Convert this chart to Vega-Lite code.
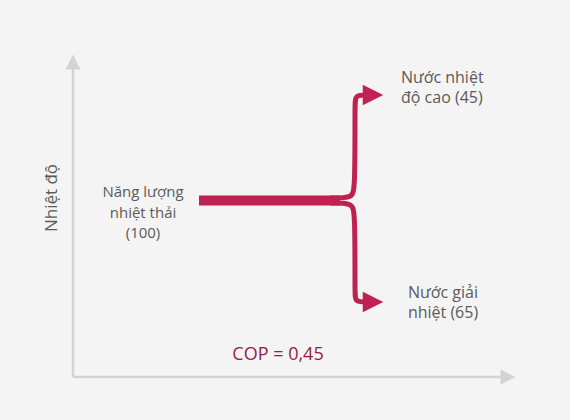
{
  "$schema": "https://vega.github.io/schema/vega-lite/v6.json",
  "width": 570,
  "height": 420,
  "padding": 0,
  "autosize": {"type": "none"},
  "background": "#f4f4f4",
  "config": {"view": {"stroke": null}, "font": "Open Sans"},
  "layer": [
    {
      "data": {"values": [
        {"axis": "y", "x": 73, "y": 377},
        {"axis": "y", "x": 73, "y": 66},
        {"axis": "x", "x": 73, "y": 377},
        {"axis": "x", "x": 502, "y": 377}
      ]},
      "mark": {"type": "line", "color": "#d3d3d3", "strokeWidth": 2.5},
      "encoding": {
        "x": {"field": "x", "type": "quantitative", "scale": {"domain": [0, 570], "nice": false, "zero": false}, "axis": null},
        "y": {"field": "y", "type": "quantitative", "scale": {"domain": [0, 420], "reverse": true, "nice": false, "zero": false}, "axis": null},
        "detail": {"field": "axis"}
      }
    },
    {
      "data": {"values": [
        {"x": 73, "y": 62, "shape": "M0,-1L1,1L-1,1Z"},
        {"x": 508, "y": 377, "shape": "M-1,-1L1,0L-1,1Z"}
      ]},
      "mark": {"type": "point", "filled": true, "color": "#d3d3d3", "opacity": 1, "size": 225},
      "encoding": {
        "x": {"field": "x", "type": "quantitative", "axis": null},
        "y": {"field": "y", "type": "quantitative", "axis": null},
        "shape": {"field": "shape", "type": "nominal", "scale": null}
      }
    },
    {
      "data": {"values": [
        {"x": 199, "y": 200.5},
        {"x": 340, "y": 200.5}
      ]},
      "mark": {"type": "line", "color": "#bf2150", "strokeWidth": 10, "strokeCap": "butt"},
      "encoding": {
        "x": {"field": "x", "type": "quantitative", "axis": null},
        "y": {"field": "y", "type": "quantitative", "axis": null}
      }
    },
    {
      "data": {"values": [
        {"b": "up", "o": 1, "x": 330, "y": 198},
        {"b": "up", "o": 2, "x": 352, "y": 198},
        {"b": "up", "o": 3, "x": 355, "y": 190},
        {"b": "up", "o": 4, "x": 355, "y": 104},
        {"b": "up", "o": 5, "x": 355, "y": 95},
        {"b": "up", "o": 6, "x": 368, "y": 95},
        {"b": "down", "o": 1, "x": 330, "y": 203},
        {"b": "down", "o": 2, "x": 352, "y": 203},
        {"b": "down", "o": 3, "x": 355, "y": 211},
        {"b": "down", "o": 4, "x": 355, "y": 294},
        {"b": "down", "o": 5, "x": 355, "y": 302},
        {"b": "down", "o": 6, "x": 368, "y": 302}
      ]},
      "mark": {"type": "line", "color": "#bf2150", "strokeWidth": 5, "interpolate": "basis", "strokeCap": "butt"},
      "encoding": {
        "x": {"field": "x", "type": "quantitative", "axis": null},
        "y": {"field": "y", "type": "quantitative", "axis": null},
        "detail": {"field": "b"},
        "order": {"field": "o"}
      }
    },
    {
      "data": {"values": [
        {"x": 373, "y": 95},
        {"x": 373, "y": 302}
      ]},
      "mark": {"type": "point", "filled": true, "color": "#bf2150", "opacity": 1, "size": 420, "shape": "M-1,-1L1,0L-1,1Z"},
      "encoding": {
        "x": {"field": "x", "type": "quantitative", "axis": null},
        "y": {"field": "y", "type": "quantitative", "axis": null}
      }
    },
    {
      "data": {"values": [
        {"x": 143, "y": 192, "label": "Năng lượng\nnhiệt thải\n(100)"}
      ]},
      "mark": {"type": "text", "fontSize": 15, "color": "#5a5a5a", "align": "center", "baseline": "middle", "lineBreak": "\n", "lineHeight": 20.5},
      "encoding": {
        "x": {"field": "x", "type": "quantitative", "axis": null},
        "y": {"field": "y", "type": "quantitative", "axis": null},
        "text": {"field": "label"}
      }
    },
    {
      "data": {"values": [
        {"x": 443, "y": 293, "label": "Nước giải\nnhiệt (65)"}
      ]},
      "mark": {"type": "text", "fontSize": 16, "color": "#5a5a5a", "align": "center", "baseline": "middle", "lineBreak": "\n", "lineHeight": 20},
      "encoding": {
        "x": {"field": "x", "type": "quantitative", "axis": null},
        "y": {"field": "y", "type": "quantitative", "axis": null},
        "text": {"field": "label"}
      }
    },
    {
      "data": {"values": [
        {"x": 401, "y": 78, "label": "Nước nhiệt\nđộ cao (45)"}
      ]},
      "mark": {"type": "text", "fontSize": 16, "color": "#5a5a5a", "align": "left", "baseline": "middle", "lineBreak": "\n", "lineHeight": 20},
      "encoding": {
        "x": {"field": "x", "type": "quantitative", "axis": null},
        "y": {"field": "y", "type": "quantitative", "axis": null},
        "text": {"field": "label"}
      }
    },
    {
      "data": {"values": [
        {"x": 52, "y": 198, "label": "Nhiệt độ"}
      ]},
      "mark": {"type": "text", "fontSize": 17, "color": "#5a5a5a", "align": "center", "baseline": "middle", "angle": 270},
      "encoding": {
        "x": {"field": "x", "type": "quantitative", "axis": null},
        "y": {"field": "y", "type": "quantitative", "axis": null},
        "text": {"field": "label"}
      }
    },
    {
      "data": {"values": [
        {"x": 278, "y": 355, "label": "COP = 0,45"}
      ]},
      "mark": {"type": "text", "fontSize": 18, "color": "#9a1a44", "align": "center", "baseline": "middle"},
      "encoding": {
        "x": {"field": "x", "type": "quantitative", "axis": null},
        "y": {"field": "y", "type": "quantitative", "axis": null},
        "text": {"field": "label"}
      }
    }
  ]
}
